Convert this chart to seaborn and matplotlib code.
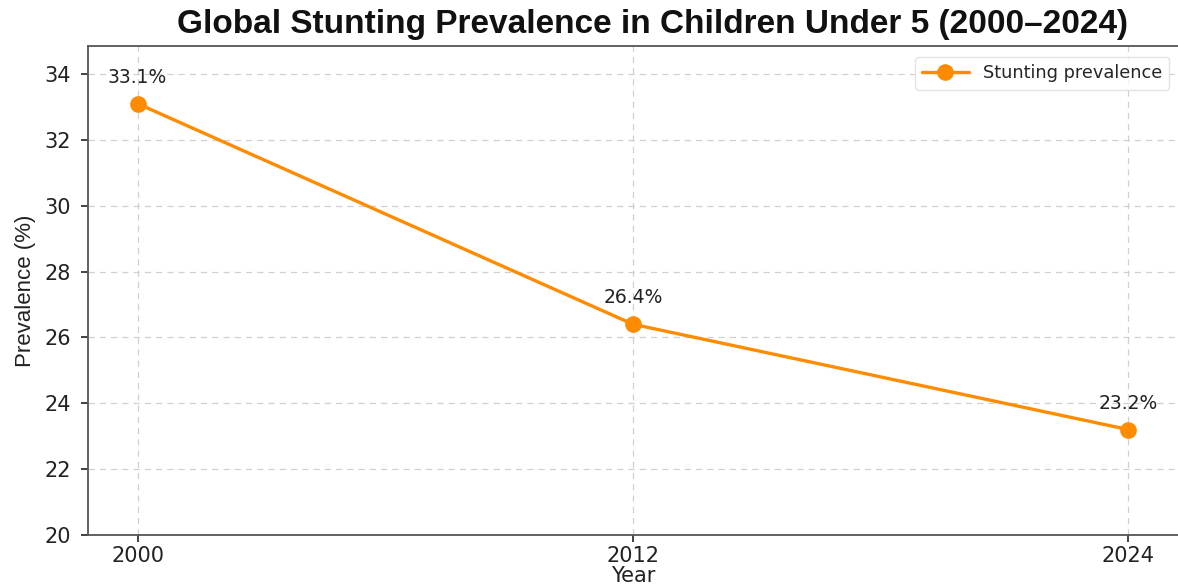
import matplotlib
matplotlib.use("Agg")
import matplotlib.pyplot as plt
import seaborn as sns
import pandas as pd

# Stunting prevalence among children under five
years = [2000, 2012, 2024]
prevalence = [33.1, 26.4, 23.2]
series_name = "Stunting prevalence"
y_ticks = [20, 22, 24, 26, 28, 30, 32, 34]

df = pd.DataFrame({"Year": years, "Prevalence": prevalence})

sns.set_theme(style="whitegrid")
plt.rcParams["font.family"] = ["DejaVu Sans"]

fig = plt.figure(figsize=(11.78, 5.85), dpi=100)
ax = fig.add_axes([0.0747, 0.0855, 0.9253, 0.8359])

orange = "#FF8C00"
sns.lineplot(data=df, x="Year", y="Prevalence", ax=ax, color=orange,
             marker="o", markersize=12, markeredgewidth=0, linewidth=2.4,
             label=series_name)

for x, y in zip(years, prevalence):
    ax.annotate(f"{y:.1f}%", xy=(x, y), xytext=(0, 19), textcoords="offset points",
                ha="center", va="center", fontsize=13.5, color="#222222")

ax.set_xlim(1998.8, 2025.2)
ax.set_ylim(20, 34.85)
ax.set_xticks(years)
ax.set_yticks(y_ticks)
ax.tick_params(axis="both", labelsize=15, colors="#222222", length=5, width=1.2,
               direction="out", left=True, bottom=True)
ax.tick_params(axis="y", pad=7)
ax.tick_params(axis="x", pad=3)

ax.grid(True, linestyle=(0, (5, 4)), color="#d0d0d0", linewidth=0.9)
ax.set_facecolor("white")
for side in ["left", "bottom", "top"]:
    ax.spines[side].set_visible(True)
    ax.spines[side].set_color("#555555")
    ax.spines[side].set_linewidth(1.3)
ax.spines["right"].set_visible(False)

ax.set_xlabel("Year", fontsize=15, labelpad=0, color="#222222")
ax.set_ylabel("Prevalence (%)", fontsize=16, labelpad=6, color="#222222",
              family=["Liberation Sans"])

leg = ax.legend(loc="upper right", fontsize=12.8, frameon=True, borderpad=0.4,
                handlelength=2.6, bbox_to_anchor=(1.0, 0.995))
leg.get_frame().set_edgecolor("#dddddd")
leg.get_frame().set_linewidth(1.0)

fig.text(0.554, 0.958, "Global Stunting Prevalence in Children Under 5 (2000–2024)",
         ha="center", va="center", fontsize=24, fontweight="bold",
         family=["Liberation Sans", "DejaVu Sans"], color="#111111")

fig.savefig("out.png", dpi=100)
